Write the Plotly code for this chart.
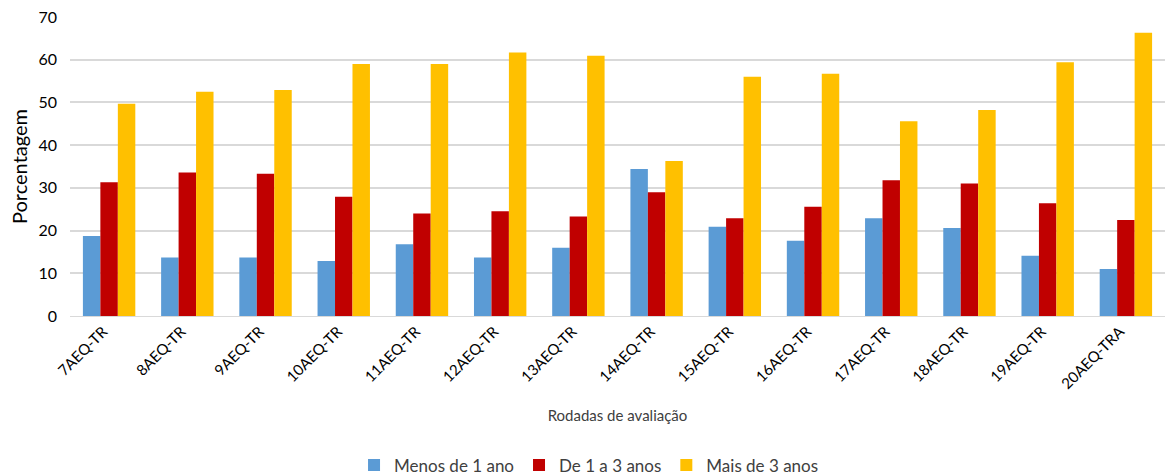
import plotly.graph_objects as go

# Rodadas de avaliação (categorias do eixo x)
rodadas = ["7AEQ-TR", "8AEQ-TR", "9AEQ-TR", "10AEQ-TR", "11AEQ-TR", "12AEQ-TR",
           "13AEQ-TR", "14AEQ-TR", "15AEQ-TR", "16AEQ-TR", "17AEQ-TR", "18AEQ-TR",
           "19AEQ-TR", "20AEQ-TRA"]

# Percentual de participantes por tempo de experiência
menos_1_ano = [18.7, 13.7, 13.7, 12.9, 16.8, 13.7, 16.0, 34.4, 20.9, 17.6, 22.9, 20.6, 14.1, 11.0]
de_1_a_3_anos = [31.3, 33.6, 33.3, 27.9, 24.0, 24.5, 23.3, 29.0, 22.9, 25.6, 31.8, 31.0, 26.4, 22.5]
mais_3_anos = [49.7, 52.5, 52.9, 59.0, 59.0, 61.7, 60.9, 36.3, 56.0, 56.7, 45.6, 48.2, 59.4, 66.3]

y_ticks = [0, 10, 20, 30, 40, 50, 60, 70]

font_family = "Lato, 'Open Sans', sans-serif"
text_color = "#404040"

series = [
    ("Menos de 1 ano", menos_1_ano, "#5B9BD5"),
    ("De 1 a 3 anos", de_1_a_3_anos, "#C00000"),
    ("Mais de 3 anos", mais_3_anos, "#FFC000"),
]

fig = go.Figure()
for name, values, color in series:
    fig.add_trace(go.Bar(
        x=rodadas, y=values, name=name,
        marker=dict(color=color, line=dict(width=0)),
    ))

fig.update_layout(
    width=1175, height=476,
    margin=dict(l=70, r=10, t=17, b=160, autoexpand=False),
    paper_bgcolor="white", plot_bgcolor="white",
    barmode="group", bargap=0.33, bargroupgap=0,
    font=dict(family=font_family, size=14, color=text_color),
    showlegend=True,
    legend=dict(
        orientation="h", x=0.474, xanchor="center",
        yref="container", y=0.022, yanchor="middle",
        font=dict(size=17, color=text_color),
        traceorder="normal",
    ),
    xaxis=dict(
        tickangle=-45, tickfont=dict(size=15, color="black"),
        ticklabelshift=-6,
        showline=True, linecolor="#d9d9d9", linewidth=1,
        ticks="", showgrid=False, automargin=False,
        title=dict(text="Rodadas de avaliação", font=dict(size=15, color=text_color), standoff=19),
    ),
    yaxis=dict(
        range=[0, 70], tickvals=y_ticks, tickfont=dict(size=16, color="black"),
        ticklabelstandoff=12,
        showgrid=True, gridcolor="#d9d9d9", gridwidth=1.5,
        zeroline=False, showline=False, ticks="", automargin=False,
        title=dict(text="Porcentagem", font=dict(size=20, color="black"), standoff=5),
    ),
)

fig.write_html("out.html")
